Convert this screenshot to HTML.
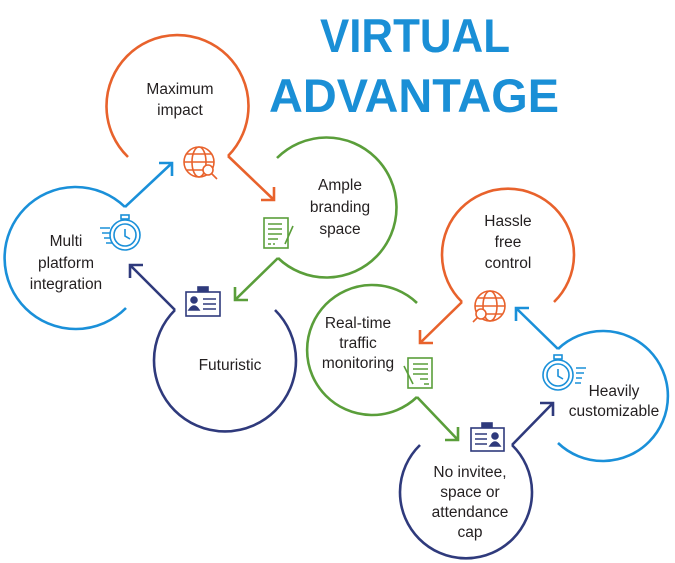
<!DOCTYPE html>
<html><head><meta charset="utf-8"><style>
html,body{margin:0;padding:0;background:#fff}
svg{display:block}
text{font-family:"Liberation Sans",sans-serif;fill:#231f20}
.t{font-size:15.5px;text-anchor:middle}
.h{font-size:47px;font-weight:bold;fill:#1a8fd6;text-anchor:middle}
</style></head><body>
<svg width="675" height="563" viewBox="0 0 675 563" xmlns="http://www.w3.org/2000/svg">
<text class="h" x="415" y="52" textLength="190" lengthAdjust="spacingAndGlyphs">VIRTUAL</text>
<text class="h" x="414" y="112" textLength="290" lengthAdjust="spacingAndGlyphs">ADVANTAGE</text>
<g fill="none" stroke-width="2.6">
<!-- Maximum impact -->
<path d="M128 157 A71 71 0 1 1 228 156" stroke="#e8622c"/>
<path d="M228 156 L274 200 M274 187 L274 200 L261 200" stroke="#e8622c"/>
<!-- Multi platform -->
<path d="M125 207 A71 71 0 1 0 126 308" stroke="#1a90d9"/>
<path d="M125 207 L172 163 M159 163 L172 163 L172 176" stroke="#1a90d9"/>
<!-- Ample -->
<path d="M277 158 A70 70 0 1 1 278 258" stroke="#5a9e3a"/>
<path d="M278 258 L235 300 M235 287 L235 300 L248 300" stroke="#5a9e3a"/>
<!-- Futuristic -->
<path d="M175 310 A71 71 0 1 0 275 310" stroke="#2f3a7c"/>
<path d="M175 310 L130 265 M130 278 L130 265 L143 265" stroke="#2f3a7c"/>
<!-- Hassle -->
<path d="M462 302 A66 66 0 1 1 554 302" stroke="#e8622c"/>
<path d="M462 302 L420 343 M420 330 L420 343 L433 343" stroke="#e8622c"/>
<!-- Real-time -->
<path d="M417 303 A65 65 0 1 0 417 397" stroke="#5a9e3a"/>
<path d="M417 397 L458 440 M445 440 L458 440 L458 427" stroke="#5a9e3a"/>
<!-- No invitee -->
<path d="M420 445 A66 66 0 1 0 512 445" stroke="#2f3a7c"/>
<path d="M512 445 L553 403 M540 403 L553 403 L553 416" stroke="#2f3a7c"/>
<!-- Heavily -->
<path d="M558 349 A65 65 0 1 1 558 443" stroke="#1a90d9"/>
<path d="M558 349 L516 308 M516 321 L516 308 L529 308" stroke="#1a90d9"/>
</g>
<!-- icons -->
<g fill="none" stroke="#e8622c" stroke-width="1.6">
<circle cx="199" cy="162" r="15"/><ellipse cx="199" cy="162" rx="7" ry="15"/><line x1="184" y1="162" x2="214" y2="162"/><line x1="187" y1="154" x2="211" y2="154"/><line x1="187" y1="170" x2="211" y2="170"/>
<circle cx="208" cy="170" r="5" fill="#fff"/><line x1="212" y1="174" x2="217" y2="179"/>
<circle cx="490" cy="306" r="15"/><ellipse cx="490" cy="306" rx="7" ry="15"/><line x1="475" y1="306" x2="505" y2="306"/><line x1="478" y1="298" x2="502" y2="298"/><line x1="478" y1="314" x2="502" y2="314"/>
<circle cx="481" cy="314" r="5" fill="#fff"/><line x1="477" y1="318" x2="473" y2="322"/>
</g>
<g fill="none" stroke="#1a90d9" stroke-width="1.6">
<circle cx="125" cy="235" r="15"/><circle cx="125" cy="235" r="11"/><rect x="121" y="215" width="8" height="4"/><path d="M125 229 L125 236 L130 239"/><path d="M100 228h10M102 233h8M104 238h6M106 243h6"/>
<circle cx="558" cy="375" r="15"/><circle cx="558" cy="375" r="11"/><rect x="554" y="355" width="8" height="4"/><path d="M558 369 L558 376 L563 379"/><path d="M576 368h10M576 373h8M576 378h6M575 383h6"/>
</g>
<g fill="none" stroke="#5a9e3a" stroke-width="1.6">
<rect x="264" y="218" width="24" height="30"/><path d="M268 224h14M268 229h14M268 234h14M268 239h10M268 244h3M273 244h2"/><path d="M293 226 L285 244"/>
<rect x="408" y="358" width="24" height="30"/><path d="M413 364h15M413 369h15M413 374h15M420 379h8M424 384h5"/><path d="M404 366 L413 384"/>
</g>
<g stroke="#2f3a7c" stroke-width="1.6">
<rect x="186" y="292" width="34" height="24" fill="none"/><rect x="198" y="287" width="10" height="4" fill="#2f3a7c"/><circle cx="194" cy="300" r="3" fill="#2f3a7c"/><path d="M189 310 q5 -8 10 0z" fill="#2f3a7c"/><path d="M203 299h13M203 304h13M203 309h13" fill="none"/>
<rect x="471" y="428" width="33" height="23" fill="none"/><rect x="482" y="423" width="10" height="4" fill="#2f3a7c"/><circle cx="495" cy="436" r="3" fill="#2f3a7c"/><path d="M490 446 q5 -8 10 0z" fill="#2f3a7c"/><path d="M475 434h12M475 439h12M475 444h12" fill="none"/>
</g>
<!-- labels -->
<text class="t" x="180" y="94">Maximum</text><text class="t" x="180" y="115">impact</text>
<text class="t" x="66" y="246">Multi</text><text class="t" x="66" y="268">platform</text><text class="t" x="66" y="289">integration</text>
<text class="t" x="340" y="190">Ample</text><text class="t" x="340" y="212">branding</text><text class="t" x="340" y="234">space</text>
<text class="t" x="230" y="370">Futuristic</text>
<text class="t" x="508" y="226">Hassle</text><text class="t" x="508" y="247">free</text><text class="t" x="508" y="268">control</text>
<text class="t" x="358" y="328">Real-time</text><text class="t" x="358" y="348">traffic</text><text class="t" x="358" y="368">monitoring</text>
<text class="t" x="614" y="396">Heavily</text><text class="t" x="614" y="416">customizable</text>
<text class="t" x="470" y="477">No invitee,</text><text class="t" x="470" y="497">space or</text><text class="t" x="470" y="517">attendance</text><text class="t" x="470" y="537">cap</text>
</svg>
</body></html>
